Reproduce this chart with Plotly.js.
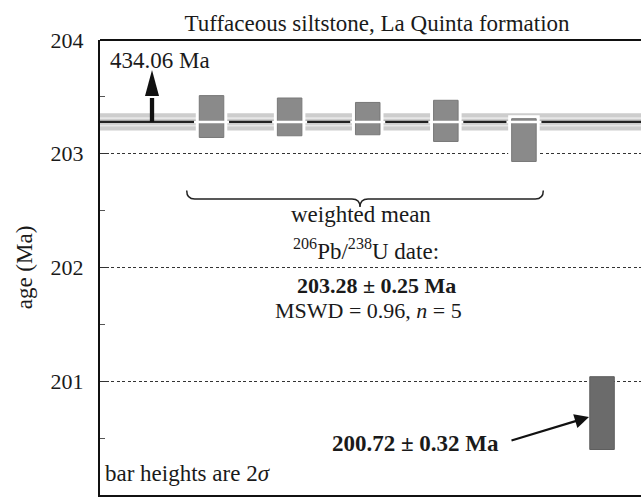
<!DOCTYPE html>
<html>
<head>
<meta charset="utf-8">
<script src="https://cdn.plot.ly/plotly-3.0.1.min.js"></script>
<style>
html,body{margin:0;padding:0;background:#fff;}
#chart{width:641px;height:500px;}
</style>
</head>
<body>
<div id="chart"></div>
<script>
// ---- data ----
const analyses   = ['z1', 'z2', 'z3', 'z4', 'z5', 'z6'];
const positions  = [1, 2, 3, 4, 5, 6];
const ages       = [203.327, 203.324, 203.309, 203.289, 203.12, 200.72];   // Ma, bar centres
const errs2s     = [0.184, 0.166, 0.142, 0.181, 0.188, 0.32];              // 2 sigma (half bar height)
const inMean     = [true, true, true, true, true, false];
const weightedMean = 203.28;
const meanErr      = 0.25;
const meanBandHalf = 0.075;
const meanInnerHalf = 0.033;
const mswd = 0.96;
const nUsed = 5;
const offScaleAge = 434.06;
const offScalePos = 0.238;
const yTickVals = [200, 201, 202, 203, 204];

// ---- geometry helpers (pixel -> data) ----
const W = 641, H = 500, ML = 100, MR = 0, MT = 40, MB = 5;
const xRange = [-0.428, 6.499];
const yRange = [200, 204];
const pxX = (xRange[1] - xRange[0]) / (W - ML - MR);
const pxY = (yRange[1] - yRange[0]) / (H - MT - MB);
const xp = px => xRange[0] + (px - ML) * pxX;
const yp = py => yRange[1] - (py - MT) * pxY;

const SERIF = '"Liberation Serif", "Times New Roman", "DejaVu Serif", serif';
const INK = '#1a1a1a';
const barWidth = 0.314;

const meanIdx = positions.map((p, i) => i).filter(i => inMean[i]);
const outIdx  = positions.map((p, i) => i).filter(i => !inMean[i]);
const pick = (arr, idx) => idx.map(i => arr[i]);

const traces = [
  { // white halo behind the bars used in the mean
    type: 'bar', x: pick(positions, meanIdx),
    base: meanIdx.map(i => ages[i] - errs2s[i]),
    y: meanIdx.map(i => 2 * errs2s[i]),
    width: barWidth,
    marker: {color: '#ffffff', line: {color: '#ffffff', width: 7}},
    hoverinfo: 'skip', showlegend: false
  },
  { // bars used in the weighted mean
    type: 'bar', x: pick(positions, meanIdx),
    base: meanIdx.map(i => ages[i] - errs2s[i]),
    y: meanIdx.map(i => 2 * errs2s[i]),
    width: barWidth, text: pick(analyses, meanIdx), textposition: 'none',
    marker: {color: '#8a8a8a', line: {color: '#787878', width: 1}},
    showlegend: false
  },
  { // excluded analysis
    type: 'bar', x: pick(positions, outIdx),
    base: outIdx.map(i => ages[i] - errs2s[i]),
    y: outIdx.map(i => 2 * errs2s[i]),
    width: barWidth, text: pick(analyses, outIdx), textposition: 'none',
    marker: {color: '#6b6b6b', line: {color: '#5e5e5e', width: 1}},
    showlegend: false
  },
  { // white mean line across bars
    type: 'scatter', mode: 'markers',
    x: pick(positions, meanIdx), y: meanIdx.map(() => weightedMean),
    marker: {symbol: 'line-ew', size: 25, line: {color: '#ffffff', width: 2.5}},
    hoverinfo: 'skip', showlegend: false
  }
];

// 434.06 Ma off-scale arrow
const arrowTipY = yp(70), arrowBaseY = yp(96), arrowHalfW = 7 * pxX;
// brace
const bxL = xp(186.7), bxR = xp(543.3), bxM = xp(360);
const byT = yp(190.5), byH = yp(199), byP = yp(207), br = 8 * pxX;

const shapes = [
  {type: 'rect', xref: 'paper', yref: 'y', x0: 0, x1: 1,
   y0: weightedMean - meanBandHalf, y1: weightedMean + meanBandHalf,
   fillcolor: '#cdcdcd', line: {width: 0}, layer: 'below'},
  {type: 'line', xref: 'paper', yref: 'y', x0: 0, x1: 1,
   y0: weightedMean + meanInnerHalf, y1: weightedMean + meanInnerHalf,
   line: {color: '#e6e6e6', width: 1.6}, layer: 'below'},
  {type: 'line', xref: 'paper', yref: 'y', x0: 0, x1: 1,
   y0: weightedMean - meanInnerHalf, y1: weightedMean - meanInnerHalf,
   line: {color: '#e6e6e6', width: 1.6}, layer: 'below'},
  {type: 'line', xref: 'paper', yref: 'y', x0: 0, x1: 1,
   y0: weightedMean, y1: weightedMean,
   line: {color: '#222', width: 2.2}, layer: 'below'},
  // top frame
  {type: 'line', xref: 'paper', yref: 'paper', x0: 0, x1: 1, y0: 1, y1: 1,
   line: {color: '#111', width: 2.2}},
  // off-scale arrow shaft and head
  {type: 'line', xref: 'x', yref: 'y', x0: offScalePos, x1: offScalePos,
   y0: weightedMean, y1: arrowBaseY - 2 * pxY, line: {color: '#111', width: 4.3}},
  {type: 'path', xref: 'x', yref: 'y',
   path: `M ${offScalePos - arrowHalfW},${arrowBaseY} L ${offScalePos + arrowHalfW},${arrowBaseY} L ${offScalePos},${arrowTipY} Z`,
   fillcolor: '#111', line: {width: 0}},
  // brace under the bars used in the mean
  {type: 'path', xref: 'x', yref: 'y',
   path: `M ${bxL},${byT} Q ${bxL},${byH} ${bxL + br},${byH} L ${bxM - br},${byH} Q ${bxM},${byH} ${bxM},${byP} Q ${bxM},${byH} ${bxM + br},${byH} L ${bxR - br},${byH} Q ${bxR},${byH} ${bxR},${byT}`,
   line: {color: '#222', width: 1.5}}
];

const tf = (size, extra) => Object.assign({family: SERIF, size: size, color: INK}, extra || {});
const outA = outIdx[0];
const annotations = [
  {xref: 'x', yref: 'y', x: xp(108), y: yp(60), xanchor: 'left', yanchor: 'middle',
   text: `${offScaleAge.toFixed(2)} Ma`, showarrow: false, font: tf(23)},
  {xref: 'x', yref: 'y', x: xp(360.5), y: yp(214), xanchor: 'center', yanchor: 'middle',
   text: 'weighted mean', showarrow: false, font: tf(23)},
  {xref: 'x', yref: 'y', x: xp(365.5), y: yp(249), xanchor: 'center', yanchor: 'middle',
   text: '<sup>206</sup>Pb/<sup>238</sup>U date:', showarrow: false, font: tf(23)},
  {xref: 'x', yref: 'y', x: xp(376), y: yp(285), xanchor: 'center', yanchor: 'middle',
   text: `<b>${weightedMean.toFixed(2)} ± ${meanErr.toFixed(2)} Ma</b>`, showarrow: false, font: tf(22)},
  {xref: 'x', yref: 'y', x: xp(368.5), y: yp(310), xanchor: 'center', yanchor: 'middle',
   text: `MSWD = ${mswd.toFixed(2)}, <i>n</i> = ${nUsed}`, showarrow: false, font: tf(22)},
  {xref: 'x', yref: 'y', x: xp(415), y: yp(443), xanchor: 'center', yanchor: 'middle',
   text: `<b>${ages[outA].toFixed(2)} ± ${errs2s[outA].toFixed(2)} Ma</b>`, showarrow: false, font: tf(23)},
  {xref: 'x', yref: 'y', x: xp(589), y: yp(417), axref: 'x', ayref: 'y', ax: xp(510), ay: yp(441),
   text: '', showarrow: true, arrowhead: 2, arrowsize: 1.3, arrowwidth: 2.2, arrowcolor: '#111',
   standoff: 0, startstandoff: 0},
  {xref: 'x', yref: 'y', x: xp(103), y: yp(473), xanchor: 'left', yanchor: 'middle',
   text: 'bar heights are 2<i>σ</i>', showarrow: false, font: tf(23)}
];

const layout = {
  width: W, height: H,
  margin: {l: ML, r: MR, t: MT, b: MB, pad: 0},
  paper_bgcolor: '#ffffff', plot_bgcolor: '#ffffff',
  barmode: 'overlay', showlegend: false,
  title: {text: 'Tuffaceous siltstone, La Quinta formation',
          font: tf(23), x: 377 / W, xanchor: 'center', xref: 'container',
          y: 1 - 23 / H, yanchor: 'middle', yref: 'container'},
  xaxis: {range: xRange, showline: true, linecolor: '#111', linewidth: 2,
          showgrid: false, zeroline: false, showticklabels: false, ticks: '', fixedrange: true},
  yaxis: {range: yRange, tickmode: 'array', tickvals: yTickVals, ticktext: yTickVals.map(String),
          ticks: 'inside', ticklen: 6, tickwidth: 1, tickcolor: '#333',
          showline: true, linecolor: '#111', linewidth: 2,
          showgrid: true, gridcolor: '#333', gridwidth: 1, griddash: '3px,2.5px',
          zeroline: false, tickfont: tf(22), ticklabelstandoff: 10,
          minor: {dtick: 0.5, tick0: 200, ticks: 'inside', ticklen: 5, tickcolor: '#555', showgrid: false},
          title: {text: 'age (Ma)', font: tf(23), standoff: 12}, fixedrange: true},
  shapes: shapes,
  annotations: annotations
};

Plotly.newPlot('chart', traces, layout, {displayModeBar: false, staticPlot: true});
</script>
</body>
</html>
